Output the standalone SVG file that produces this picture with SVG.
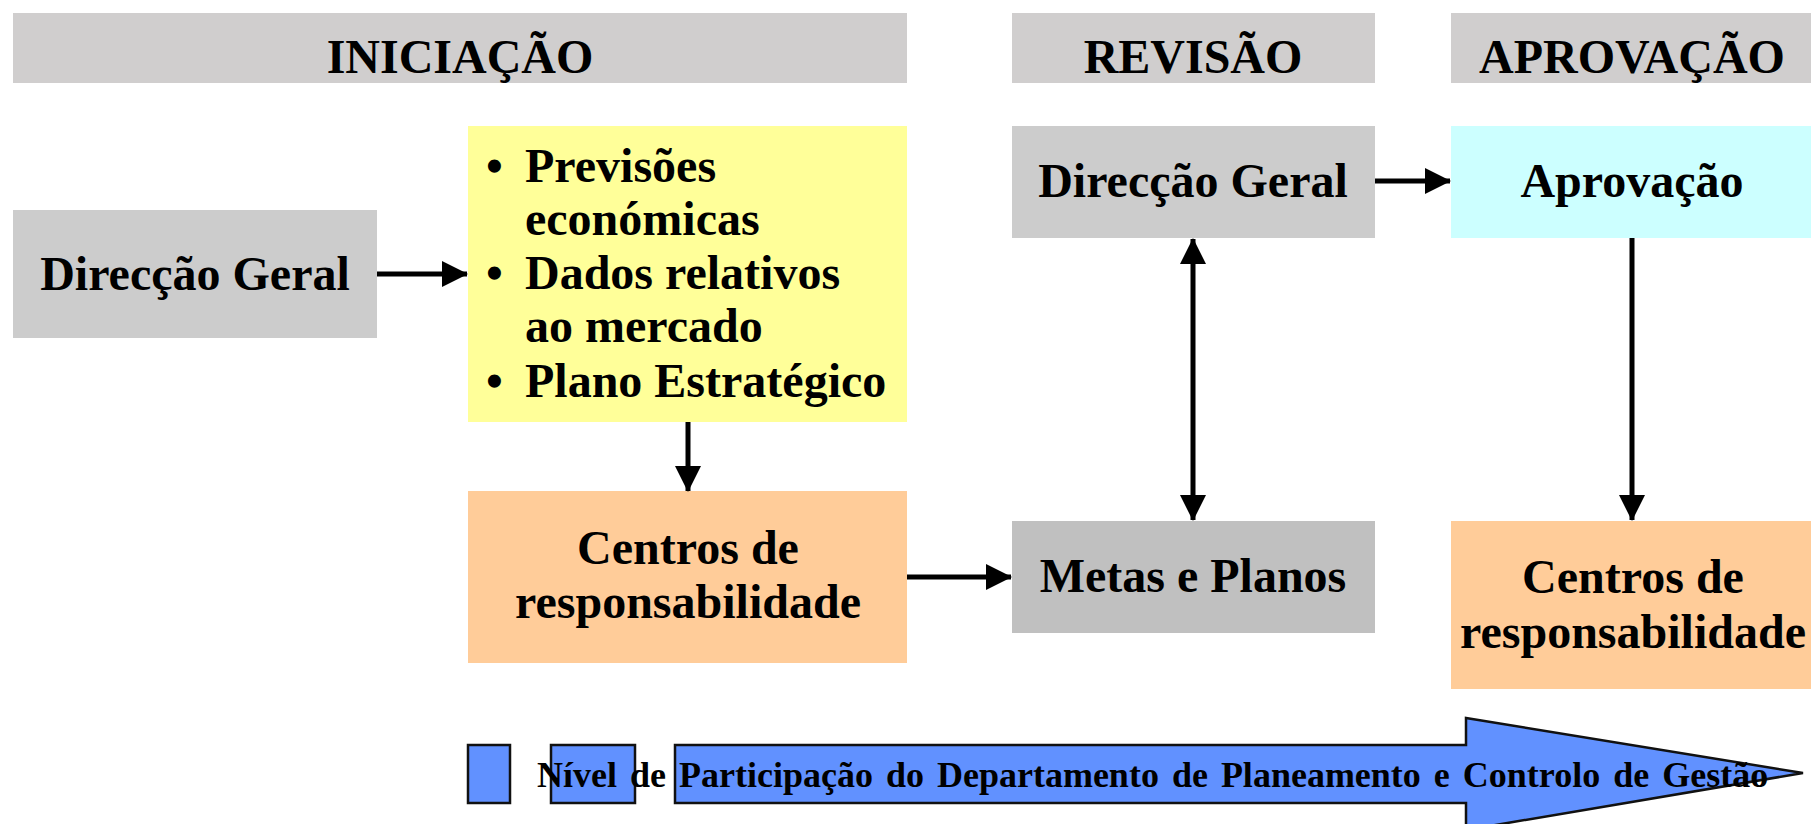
<svg xmlns="http://www.w3.org/2000/svg" width="1811" height="824" viewBox="0 0 1811 824">
<style>
.t{font-family:"Liberation Serif","Times New Roman",serif;font-weight:bold;font-size:48px;fill:#000;text-anchor:middle}
.tl{font-family:"Liberation Serif","Times New Roman",serif;font-weight:bold;font-size:48px;fill:#000}
.b{font-family:"Liberation Serif","Times New Roman",serif;font-weight:bold;font-size:36px;fill:#000;word-spacing:4px}
.hdr{fill:#D0CECE}
.gray{fill:#CCCCCC}
.conn{stroke:#000;stroke-width:5;fill:none}
.blue{fill:#6191FF;stroke:#111;stroke-width:2.5}
</style>
<defs>
<marker id="ah" markerUnits="userSpaceOnUse" markerWidth="26" markerHeight="26" refX="25" refY="13" orient="auto-start-reverse">
<path d="M0,0 L26,13 L0,26 z" fill="#000"/>
</marker>
</defs>
<rect width="1811" height="824" fill="#fff"/>
<g id="hdr-iniciacao"><rect class="hdr" x="13" y="13" width="894" height="70"/><text class="t" x="460" y="73">INICIAÇÃO</text></g>
<g id="hdr-revisao"><rect class="hdr" x="1012" y="13" width="363" height="70"/><text class="t" x="1193" y="73">REVISÃO</text></g>
<g id="hdr-aprovacao"><rect class="hdr" x="1451" y="13" width="360" height="70"/><text class="t" x="1632" y="73">APROVAÇÃO</text></g>
<g id="dg-left"><rect class="gray" x="13" y="210" width="364" height="128"/><text class="t" x="195" y="290">Direcção Geral</text></g>
<g id="inputs"><rect x="468" y="126" width="439" height="296" fill="#FFFF99"/>
<text class="tl"><tspan x="486" y="182">•</tspan><tspan x="525" y="182">Previsões</tspan><tspan x="525" y="235">económicas</tspan><tspan x="486" y="289">•</tspan><tspan x="525" y="289">Dados relativos</tspan><tspan x="525" y="342">ao mercado</tspan><tspan x="486" y="397">•</tspan><tspan x="525" y="397">Plano Estratégico</tspan></text></g>
<g id="centros-left"><rect x="468" y="491" width="439" height="172" fill="#FFCC99"/><text class="t" x="688" y="564">Centros de</text><text class="t" x="688" y="618">responsabilidade</text></g>
<g id="metas"><rect x="1012" y="521" width="363" height="112" fill="#C0C0C0"/><text class="t" x="1193" y="592">Metas e Planos</text></g>
<g id="dg-rev"><rect class="gray" x="1012" y="126" width="363" height="112"/><text class="t" x="1193" y="197">Direcção Geral</text></g>
<g id="aprovacao"><rect x="1451" y="126" width="360" height="112" fill="#CCFFFF"/><text class="t" x="1632" y="197">Aprovação</text></g>
<g id="centros-right"><rect x="1451" y="521" width="360" height="168" fill="#FFCC99"/><text class="t" x="1633" y="593">Centros de</text><text class="t" x="1633" y="648">responsabilidade</text></g>
<g id="connectors">
<line class="conn" x1="377" y1="274" x2="467" y2="274" marker-end="url(#ah)"/>
<line class="conn" x1="688" y1="422" x2="688" y2="491" marker-end="url(#ah)"/>
<line class="conn" x1="907" y1="577" x2="1011" y2="577" marker-end="url(#ah)"/>
<line class="conn" x1="1193" y1="239" x2="1193" y2="520" marker-start="url(#ah)" marker-end="url(#ah)"/>
<line class="conn" x1="1375" y1="181" x2="1450" y2="181" marker-end="url(#ah)"/>
<line class="conn" x1="1632" y1="238" x2="1632" y2="520" marker-end="url(#ah)"/>
</g>
<g id="legend">
<rect class="blue" x="468" y="745" width="42" height="58"/>
<rect class="blue" x="551" y="745" width="84" height="58"/>
<path class="blue" d="M675,745 L1466,745 L1466,718 L1803,773 L1466,830 L1466,803 L675,803 z"/>
<text class="b" x="537" y="787">Nível de Participação do Departamento de Planeamento e Controlo de Gestão</text>
</g>
</svg>
